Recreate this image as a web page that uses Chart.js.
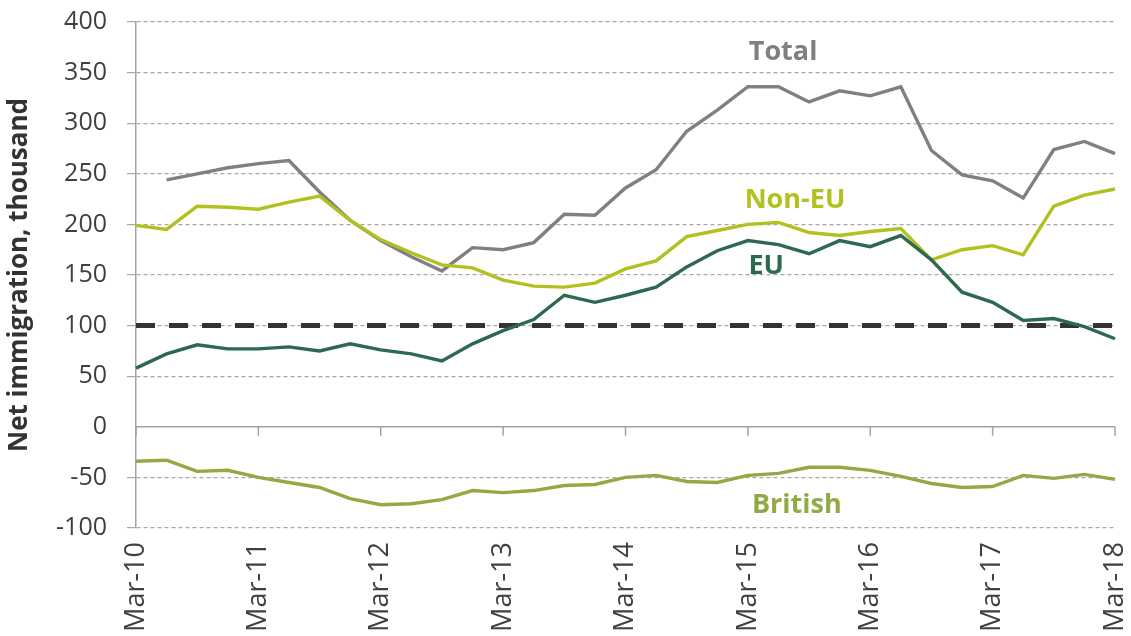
<!DOCTYPE html>
<html><head><meta charset="utf-8">
<script src="https://cdn.jsdelivr.net/npm/chart.js@4.4.1/dist/chart.umd.min.js"></script>
<style>html,body{margin:0;padding:0;background:#fff;}canvas{display:block;}</style>
</head><body>
<canvas id="c" width="1131" height="636"></canvas>
<script>
const quarters = ['Mar-10','Jun-10','Sep-10','Dec-10','Mar-11','Jun-11','Sep-11','Dec-11',
  'Mar-12','Jun-12','Sep-12','Dec-12','Mar-13','Jun-13','Sep-13','Dec-13',
  'Mar-14','Jun-14','Sep-14','Dec-14','Mar-15','Jun-15','Sep-15','Dec-15',
  'Mar-16','Jun-16','Sep-16','Dec-16','Mar-17','Jun-17','Sep-17','Dec-17','Mar-18'];
const total   = [null,244,250,256,260,263,232,204,184,168,154,177,175,182,210,209,236,254,292,313,336,336,321,332,327,336,273,249,243,226,274,282,270];
const nonEU   = [199,195,218,217,215,222,228,204,185,172,160,157,145,139,138,142,156,164,188,194,200,202,192,189,193,196,165,175,179,170,218,229,235];
const eu      = [58,72,81,77,77,79,75,82,76,72,65,82,95,106,130,123,130,138,158,174,184,180,171,184,178,189,165,133,123,105,107,99,87];
const british = [-34,-33,-44,-43,-50,-55,-60,-71,-77,-76,-72,-63,-65,-63,-58,-57,-50,-48,-54,-55,-48,-46,-40,-40,-43,-49,-56,-60,-59,-48,-51,-47,-52];
const target  = quarters.map(() => 100);
const seriesNames = ['Total','Non-EU','EU','British'];

const FONT = '"Open Sans", "Noto Sans", sans-serif';
const colors = {total:'#808080', nonEU:'#b2c11e', eu:'#2d6a4d', british:'#93a945', target:'#333333'};

const annotations = [
  {text: seriesNames[0], x: 21.15, y: 370, color: colors.total},
  {text: seriesNames[1], x: 21.54, y: 224, color: colors.nonEU},
  {text: seriesNames[2], x: 20.6, y: 159, color: colors.eu},
  {text: seriesNames[3], x: 21.6, y: -78, color: colors.british}
];

const extras = {
  id: 'extras',
  afterDatasetsDraw(chart) {
    const {ctx, chartArea, scales: {x, y}} = chart;
    const y0 = y.getPixelForValue(0);
    ctx.save();
    ctx.strokeStyle = '#a3a3a3';
    ctx.lineWidth = 1.5;
    ctx.beginPath();
    ctx.moveTo(chartArea.left, y0);
    ctx.lineTo(chartArea.right, y0);
    quarters.forEach((q, i) => {
      if (i % 4 === 0) {
        const px = x.getPixelForValue(i);
        ctx.moveTo(px, y0);
        ctx.lineTo(px, y0 + 9);
      }
    });
    ctx.stroke();
    ctx.font = 'bold 27px ' + FONT;
    ctx.textAlign = 'center';
    ctx.textBaseline = 'middle';
    annotations.forEach(a => {
      ctx.fillStyle = a.color;
      ctx.fillText(a.text, x.getPixelForValue(a.x), y.getPixelForValue(a.y));
    });
    ctx.restore();
  }
};

const line = (label, data, color, order, extra) => Object.assign({
  label, data, borderColor: color, backgroundColor: color, borderWidth: 3.4,
  pointRadius: 0, tension: 0, fill: false, order, spanGaps: false
}, extra || {});

new Chart(document.getElementById('c'), {
  type: 'line',
  data: {
    labels: quarters,
    datasets: [
      line('Target', target, colors.target, 10, {borderWidth: 5, borderDash: [19, 14]}),
      line(seriesNames[3], british, colors.british, 4),
      line(seriesNames[0], total, colors.total, 3),
      line(seriesNames[1], nonEU, colors.nonEU, 2),
      line(seriesNames[2], eu, colors.eu, 1)
    ]
  },
  options: {
    responsive: false,
    animation: false,
    events: [],
    layout: {padding: {left: 0, right: 16, top: 22, bottom: 0}},
    plugins: {legend: {display: false}, tooltip: {enabled: false}},
    scales: {
      x: {
        type: 'category',
        offset: false,
        grid: {display: false, drawTicks: false},
        border: {display: false},
        afterFit: s => { s.height = 108; s.paddingLeft = 0; s.paddingRight = 0; },
        ticks: {
          autoSkip: false, maxRotation: 90, minRotation: 90, padding: 14,
          color: '#404040', font: {family: FONT, size: 27},
          callback: (v, i) => (i % 4 === 0 ? quarters[i] : '')
        }
      },
      y: {
        min: -100, max: 400,
        afterFit: s => { s.width = 136; s.paddingTop = 0; s.paddingBottom = 0; },
        ticks: {stepSize: 50, padding: 20, color: '#404040', font: {family: FONT, size: 25}},
        grid: {
          color: c => (c.tick && c.tick.value === 0 ? 'rgba(0,0,0,0)' : '#a8a8a8'),
          lineWidth: 1.2, tickLength: 9
        },
        border: {display: true, color: '#a3a3a3', width: 1.5, dash: [4, 3]},
        title: {
          display: true, text: 'Net immigration, thousand', color: '#333333',
          font: {family: FONT, size: 26, weight: 'bold'}, padding: {top: 4, bottom: 0}
        }
      }
    }
  },
  plugins: [extras]
});
</script>
</body></html>
